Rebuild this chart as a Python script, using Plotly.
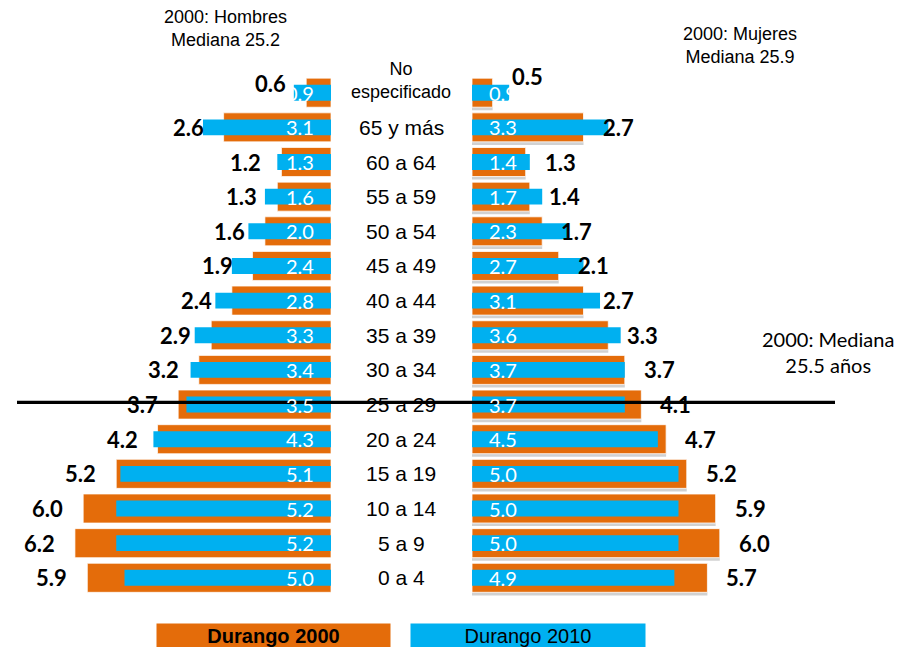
import plotly.graph_objects as go

# ---- data (top row first, as drawn) ----
ages = ["No especificado", "65 y más", "60 a 64", "55 a 59", "50 a 54", "45 a 49",
        "40 a 44", "35 a 39", "30 a 34", "25 a 29", "20 a 24", "15 a 19",
        "10 a 14", "5 a 9", "0 a 4"]
age_text = ["No<br>especificado"] + ages[1:]
hombres_2000 = [0.6, 2.6, 1.2, 1.3, 1.6, 1.9, 2.4, 2.9, 3.2, 3.7, 4.2, 5.2, 6.0, 6.2, 5.9]
hombres_2010 = [0.9, 3.1, 1.3, 1.6, 2.0, 2.4, 2.8, 3.3, 3.4, 3.5, 4.3, 5.1, 5.2, 5.2, 5.0]
mujeres_2000 = [0.5, 2.7, 1.3, 1.4, 1.7, 2.1, 2.7, 3.3, 3.7, 4.1, 4.7, 5.2, 5.9, 6.0, 5.7]
mujeres_2010 = [0.9, 3.3, 1.4, 1.7, 2.3, 2.7, 3.1, 3.6, 3.7, 3.7, 4.5, 5.0, 5.0, 5.0, 4.9]
median_group = "25 a 29"
series_names = ["Durango 2000", "Durango 2010"]

ORANGE = "#E46C0A"
BLUE = "#00B0F0"
ARIAL = "Arial"
CAL = "Lato"

# page has an 8px body margin: figure is placed at (8, 8) in the window
OFF = 8
W, H = 904 - OFF, 647 - OFF
PX_PER_UNIT = 41.3
ROW = 34.65          # px per age group
ROW0_Y = 577.8       # window px of "0 a 4" centre
TOP_Y = 92.7         # window px of top row centre


def px(x):
    return (x - OFF) / W


def py(y):
    return 1 - (y - OFF) / H


LEFT_C, RIGHT_C = 331, 472   # window px of bar bases

fig = go.Figure()
common = dict(orientation="h", hoverinfo="skip", showlegend=False)

# soft drop shadow for the women's bars (decorative)
fig.add_trace(go.Bar(y=ages, x=mujeres_2000, xaxis="x2", yaxis="y", width=0.837, offset=-0.418 - 0.09,
                     marker=dict(color="rgba(0,0,0,0.18)", line=dict(width=0)), **common))
fig.add_trace(go.Bar(y=ages, x=hombres_2000, xaxis="x", yaxis="y", width=0.837,
                     marker=dict(color=ORANGE, line=dict(color="rgba(255,255,255,0.7)", width=1)),
                     name=series_names[0], **common))
fig.add_trace(go.Bar(y=ages, x=hombres_2010, xaxis="x", yaxis="y", width=0.46,
                     marker=dict(color=BLUE, line=dict(width=0)), name=series_names[1], **common))
fig.add_trace(go.Bar(y=ages, x=mujeres_2000, xaxis="x2", yaxis="y", width=0.837,
                     marker=dict(color=ORANGE, line=dict(color="rgba(255,255,255,0.8)", width=1)),
                     name=series_names[0], **common))
fig.add_trace(go.Bar(y=ages, x=mujeres_2010, xaxis="x2", yaxis="y", width=0.46,
                     marker=dict(color=BLUE, line=dict(width=0)), name=series_names[1], **common))

ann = []
for i, a in enumerate(ages):
    ys = 9 if i == 0 else 0
    ys_r = 16 if i == 0 else 0
    ann.append(dict(x=hombres_2000[i], y=a, xref="x", yref="y", text=f"{hombres_2000[i]:.1f}",
                    xanchor="right", yanchor="middle", xshift=-18, yshift=ys, showarrow=False,
                    font=dict(family=CAL, size=22, color="black", weight="bold")))
    ann.append(dict(x=mujeres_2000[i], y=a, xref="x2", yref="y", text=f"{mujeres_2000[i]:.1f}",
                    xanchor="left", yanchor="middle", xshift=17, yshift=ys_r, showarrow=False,
                    font=dict(family=CAL, size=22, color="black", weight="bold")))
    ann.append(dict(x=0, y=a, xref="x", yref="y", text=f"{hombres_2010[i]:.1f}",
                    xanchor="right", yanchor="middle", xshift=-15, showarrow=False,
                    font=dict(family=CAL, size=20, color="white")))
    ann.append(dict(x=0, y=a, xref="x2", yref="y", text=f"{mujeres_2010[i]:.1f}",
                    xanchor="left", yanchor="middle", xshift=15, showarrow=False,
                    font=dict(family=CAL, size=20, color="white")))
    ann.append(dict(x=px(401), y=a, xref="paper", yref="y", text=age_text[i],
                    xanchor="center", yanchor="middle", showarrow=False,
                    yshift=12 if i == 0 else 0,
                    font=dict(family=ARIAL, size=21 if i else 18, color="black")))

ann += [
    dict(x=px(225), y=py(28), xref="paper", yref="paper", text="2000: Hombres<br>Mediana 25.2",
         showarrow=False, xanchor="center", yanchor="middle", font=dict(family=ARIAL, size=18, color="black")),
    dict(x=px(740), y=py(46), xref="paper", yref="paper", text="2000: Mujeres<br>Mediana 25.9",
         showarrow=False, xanchor="center", yanchor="middle", font=dict(family=ARIAL, size=18, color="black")),
    dict(x=px(828), y=py(352), xref="paper", yref="paper", text="2000: Mediana<br>25.5 años",
         showarrow=False, xanchor="center", yanchor="middle", font=dict(family=CAL, size=20, color="black")),
    dict(x=px(273.5), y=py(635.5), xref="paper", yref="paper", text="<b>" + series_names[0] + "</b>",
         showarrow=False, xanchor="center", yanchor="middle", bgcolor=ORANGE, width=233, height=23,
         borderpad=0, font=dict(family=ARIAL, size=20, color="black")),
    dict(x=px(528), y=py(635.5), xref="paper", yref="paper", text=series_names[1],
         showarrow=False, xanchor="center", yanchor="middle", bgcolor=BLUE, width=234, height=23,
         borderpad=0, font=dict(family=ARIAL, size=20, color="black")),
]

cat_order = ages[::-1]
row_of_median = cat_order.index(median_group)
n = len(ages)

fig.update_layout(
    width=W, height=H, margin=dict(l=0, r=0, t=0, b=0),
    paper_bgcolor="white", plot_bgcolor="white", barmode="overlay",
    xaxis=dict(domain=[0, px(LEFT_C)], range=[(LEFT_C - OFF) / PX_PER_UNIT, 0],
               visible=False, fixedrange=True),
    xaxis2=dict(domain=[px(RIGHT_C), 1], range=[0, (904 - RIGHT_C) / PX_PER_UNIT],
                visible=False, anchor="y", fixedrange=True),
    yaxis=dict(type="category", categoryorder="array", categoryarray=cat_order,
               range=[-(647 - ROW0_Y) / ROW, (n - 1) + (TOP_Y - OFF) / ROW],
               visible=False, fixedrange=True),
    annotations=ann,
    shapes=[dict(type="line", xref="paper", yref="y", x0=px(17), x1=px(835),
                 y0=row_of_median + 0.065, y1=row_of_median + 0.065,
                 line=dict(color="black", width=3.3), layer="above")],
)

fig.write_html("out.html")
